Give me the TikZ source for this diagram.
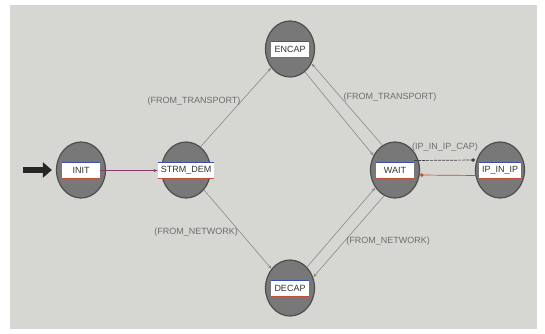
\documentclass[tikz,border=0pt]{standalone}
\usepackage{fontspec}
\setmainfont{Liberation Sans}
\usetikzlibrary{shapes.geometric,arrows.meta,calc}
\definecolor{bggray}{HTML}{D6D6D2}
\definecolor{stfill}{HTML}{787878}
\definecolor{stdraw}{HTML}{4E4E4E}
\definecolor{edgegray}{HTML}{8A8A8A}
\definecolor{lblgray}{HTML}{6E6E6E}
\definecolor{bandblue}{HTML}{3A4FB0}
\definecolor{bandred}{HTML}{C0503A}
\definecolor{initline}{HTML}{8A3A6A}
\tikzset{
  state/.style={ellipse, draw=stdraw, line width=1.2pt, fill=stfill, minimum width=49pt, minimum height=56pt, inner sep=0pt},
  band/.style={rectangle, fill=white, minimum width=38pt, minimum height=15pt, inner xsep=3pt, inner ysep=0pt, font=\fontsize{9}{9}\selectfont, text=black!80},
  topline/.style={draw=bandblue, line width=0.9pt},
  botline/.style={draw=bandred, line width=0.9pt},
  trans/.style={draw=edgegray, line width=0.6pt, -{Stealth[length=4pt,width=3pt]}},
  cond/.style={font=\fontsize{9}{9}\selectfont, text=lblgray, inner sep=1pt},
  dotend/.style={-{Circle[length=3.5pt]}}
}
\begin{document}
\begin{tikzpicture}[x=1pt,y=-1pt]
\useasboundingbox (0,0) rectangle (545,333);
\fill[white] (0,0) rectangle (545,333);
\fill[bggray] (10,5) rectangle (537,329);

% states
\node[state] (init) at (81,170) {};
\node[band] (initL) at (81,170.5) {INIT};
\node[state] (strm) at (186,170) {};
\node[band] (strmL) at (186,170.5) {STRM\_DEM};
\node[state] (encap) at (290,49) {};
\node[band] (encapL) at (290,49.5) {ENCAP};
\node[state] (wait) at (395,170) {};
\node[band] (waitL) at (395,170.5) {WAIT};
\node[state] (ipip) at (500,170) {};
\node[band] (ipipL) at (500,170.5) {IP\_IN\_IP};
\node[state] (decap) at (290,288) {};
\node[band] (decapL) at (290,288.5) {DECAP};
\foreach \b in {initL,strmL,encapL,waitL,ipipL,decapL}{
  \draw[topline] (\b.north west) -- (\b.north east);
  \draw[botline] (\b.south west) -- (\b.south east);
}

% entry arrow
\coordinate (entry) at (23,170);
\draw[black!85, line width=6pt, -{Triangle[length=9pt,width=15pt]}] (entry) -- ([xshift=-4pt]init.west);

% transitions
\draw[trans, draw=initline] (initL.east) -- (strmL.west);
\draw[trans] (strm.58) -- (encap.225);
\draw[trans] (strm.-48) -- (decap.134);
\draw[trans] (encap.-57) -- (wait.146);
\draw[trans] (wait.117) -- (encap.-34);
\draw[trans] (decap.51) -- (wait.222);
\draw[trans] (wait.247) -- (decap.25);
\draw[draw=black!75, line width=0.7pt, dash pattern=on 3pt off 1pt, dotend] ([yshift=10pt]waitL.east) -- ([yshift=10pt]ipip.west);
\draw[draw=bandred, line width=0.7pt, dotend] ([yshift=-5pt]ipipL.west) -- ([yshift=-5pt]wait.east);

% conditions
\node[cond] (c1) at (194,101) {(FROM\_TRANSPORT)};
\node[cond] (c2) at (390,97) {(FROM\_TRANSPORT)};
\node[cond] (c3) at (196,232) {(FROM\_NETWORK)};
\node[cond] (c4) at (388,241) {(FROM\_NETWORK)};
\node[cond] (c5) at (445,147) {(IP\_IN\_IP\_CAP)};
\end{tikzpicture}
\end{document}
